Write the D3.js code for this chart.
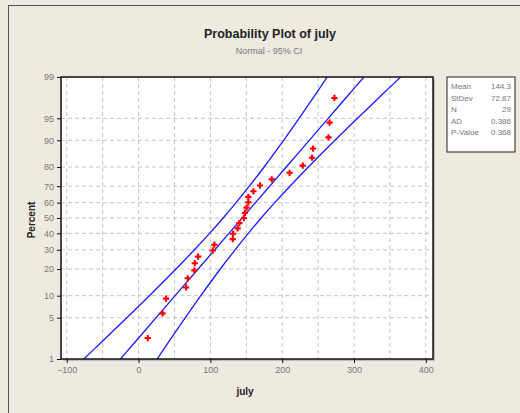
<!DOCTYPE html>
<html><head><meta charset="utf-8">
<script src="https://cdn.jsdelivr.net/npm/d3@7/dist/d3.min.js"></script>
<style>
html,body{margin:0;padding:0;background:#EEEAE0;}
svg{display:block;}
</style></head>
<body>
<svg id="chart" width="520" height="413"></svg>
<script>
// ---- data ----
const july = [12.8, 33.4, 38.3, 66.2, 68.5, 77.7, 78.3, 82.9, 103.3, 105.6,
  131.2, 131.6, 137.9, 140.4, 146.7, 148.1, 150.4, 152.9, 152.9, 159.9,
  169.2, 185.5, 210.3, 228.7, 241.5, 243.0, 264.5, 266.0, 272.7];
const bandPercent = [1, 2, 5, 10, 20, 30, 40, 50, 60, 70, 80, 90, 95, 98, 99];
const fitLine   = [-25.2, -5.4, 24.4, 50.9, 83.0, 106.1, 125.8, 144.3, 162.8, 182.5, 205.6, 237.7, 264.2, 294.0, 313.8];
const lowerBand = [-76.3, -52.1, -16.3, 15.1, 52.1, 77.8, 98.9, 117.8, 135.8, 154.2, 174.8, 201.9, 223.5, 247.2, 262.7];
const upperBand = [25.9, 41.4, 65.1, 86.7, 113.8, 134.4, 152.8, 170.8, 189.7, 210.8, 236.5, 273.5, 304.9, 340.7, 364.9];
const yTicks = [1, 5, 10, 20, 30, 40, 50, 60, 70, 80, 90, 95, 99];
const yGrid  = [5, 10, 20, 30, 40, 50, 60, 70, 80, 90, 95];
const xTicks = [-100, 0, 100, 200, 300, 400];
const xGrid  = [-100, -50, 0, 50, 100, 150, 200, 250, 300, 350, 400];
const statLabels = ["Mean", "StDev", "N", "AD", "P-Value"];
const statValues = ["144.3", "72.87", "29", "0.386", "0.368"];

// inverse normal CDF (Acklam)
function probit(p){
  const a=[-3.969683028665376e+01,2.209460984245205e+02,-2.759285104469687e+02,1.383577518672690e+02,-3.066479806614716e+01,2.506628277459239e+00];
  const b=[-5.447609879822406e+01,1.615858368580409e+02,-1.556989798598866e+02,6.680131188771972e+01,-1.328068155288572e+01];
  const c=[-7.784894002430293e-03,-3.223964580411365e-01,-2.400758277161838e+00,-2.549732539343734e+00,4.374664141464968e+00,2.938163982698783e+00];
  const d=[7.784695709041462e-03,3.224671290700398e-01,2.445134137142996e+00,3.754408661907416e+00];
  const pl=0.02425, ph=1-pl;
  let q,r;
  if(p<pl){q=Math.sqrt(-2*Math.log(p));return (((((c[0]*q+c[1])*q+c[2])*q+c[3])*q+c[4])*q+c[5])/((((d[0]*q+d[1])*q+d[2])*q+d[3])*q+1);}
  if(p<=ph){q=p-0.5;r=q*q;return (((((a[0]*r+a[1])*r+a[2])*r+a[3])*r+a[4])*r+a[5])*q/(((((b[0]*r+b[1])*r+b[2])*r+b[3])*r+b[4])*r+1);}
  q=Math.sqrt(-2*Math.log(1-p));return -(((((c[0]*q+c[1])*q+c[2])*q+c[3])*q+c[4])*q+c[5])/((((d[0]*q+d[1])*q+d[2])*q+d[3])*q+1);
}

const svg = d3.select("#chart");
const L=61, T=77, R=433, B=359;
const x = d3.scaleLinear().domain([-108, 410]).range([L, R]);
const zScale = d3.scaleLinear().domain([probit(0.01), probit(0.99)]).range([B, T]);
const yP = pct => zScale(probit(pct/100));

// outer frame
svg.append("rect").attr("x",8.5).attr("y",5.5).attr("width",600).attr("height",600)
  .attr("fill","#EEEAE0").attr("stroke","#555").attr("stroke-width",1);

// title
svg.append("text").attr("x",270).attr("y",38).attr("text-anchor","middle")
  .attr("font-family","Liberation Sans, Arial, sans-serif").attr("font-weight","bold")
  .attr("font-size",12.5).attr("fill","#222").text("Probability Plot of july");
svg.append("text").attr("x",269).attr("y",54).attr("text-anchor","middle")
  .attr("font-family","Liberation Sans, Arial, sans-serif")
  .attr("font-size",9).attr("fill","#777").text("Normal - 95% CI");

// plot area shadow + background
svg.append("rect").attr("x",L+2).attr("y",T+2).attr("width",R-L).attr("height",B-T).attr("fill","#bbb");
svg.append("rect").attr("x",L).attr("y",T).attr("width",R-L).attr("height",B-T).attr("fill","#fff");

// grid
const g = svg.append("g");
g.selectAll("line.vg").data(xGrid).join("line").attr("class","vg")
  .attr("x1",d=>x(d)).attr("x2",d=>x(d)).attr("y1",T).attr("y2",B)
  .attr("stroke","#c4c4c4").attr("stroke-width",1).attr("stroke-dasharray","4,3");
g.selectAll("line.hg").data(yGrid).join("line").attr("class","hg")
  .attr("x1",L).attr("x2",R).attr("y1",d=>yP(d)).attr("y2",d=>yP(d))
  .attr("stroke","#c4c4c4").attr("stroke-width",1).attr("stroke-dasharray","4,3");

// clip
svg.append("clipPath").attr("id","clip").append("rect").attr("x",L).attr("y",T).attr("width",R-L).attr("height",B-T);

// lines
const line = d3.line().x(d=>x(d[0])).y(d=>yP(d[1])).curve(d3.curveCatmullRom);
const lines = svg.append("g").attr("clip-path","url(#clip)");
[lowerBand, fitLine, upperBand].forEach(arr=>{
  lines.append("path").datum(arr.map((v,i)=>[v,bandPercent[i]]))
    .attr("d",line).attr("fill","none").attr("stroke","#1a1aff").attr("stroke-width",1.3);
});

// points
const n = july.length;
const pts = july.map((v,i)=>[v, 100*(i+1-0.3)/(n+0.4)]);
svg.append("g").selectAll("path").data(pts).join("path")
  .attr("transform",d=>`translate(${x(d[0])},${yP(d[1])})`)
  .attr("d", d3.symbol(d3.symbolCross, 22))
  .attr("fill","#ff0000");

// frame
svg.append("rect").attr("x",L).attr("y",T).attr("width",R-L).attr("height",B-T)
  .attr("fill","none").attr("stroke","#111").attr("stroke-width",1.5);

// axes
const tickFont = "Liberation Sans, Arial, sans-serif";
const yAxis = d3.axisLeft(zScale).tickValues(yTicks.map(p=>probit(p/100)))
  .tickFormat((d,i)=>String(yTicks[i])).tickSize(4).tickPadding(3);
const ya = svg.append("g").attr("transform",`translate(${L},0)`).call(yAxis);
const xAxis = d3.axisBottom(x).tickValues(xTicks).tickSize(4).tickPadding(4);
const xa = svg.append("g").attr("transform",`translate(0,${B})`).call(xAxis);
[ya,xa].forEach(a=>{
  a.select(".domain").remove();
  a.selectAll(".tick line").attr("stroke","#111");
  a.selectAll("text").attr("font-family",tickFont).attr("font-size",9).attr("fill","#777");
});

// axis titles
svg.append("text").attr("x",245).attr("y",395).attr("text-anchor","middle")
  .attr("font-family",tickFont).attr("font-weight","bold").attr("font-size",10).attr("fill","#222").text("july");
svg.append("text").attr("transform","translate(35,220) rotate(-90)").attr("text-anchor","middle")
  .attr("font-family",tickFont).attr("font-weight","bold").attr("font-size",10).attr("fill","#222").text("Percent");

// stats box
svg.append("rect").attr("x",447).attr("y",77).attr("width",68).attr("height",75)
  .attr("fill","#fff").attr("stroke","#222").attr("stroke-width",1);
const sb = svg.append("g");
sb.selectAll("text.l").data(statLabels).join("text").attr("class","l")
  .attr("x",451).attr("y",(d,i)=>89+i*11.5).attr("font-family",tickFont).attr("font-size",8)
  .attr("fill","#777").text(d=>d);
sb.selectAll("text.v").data(statValues).join("text").attr("class","v")
  .attr("x",511).attr("y",(d,i)=>89+i*11.5).attr("text-anchor","end").attr("font-family",tickFont).attr("font-size",8)
  .attr("fill","#777").text(d=>d);
</script>
</body></html>
